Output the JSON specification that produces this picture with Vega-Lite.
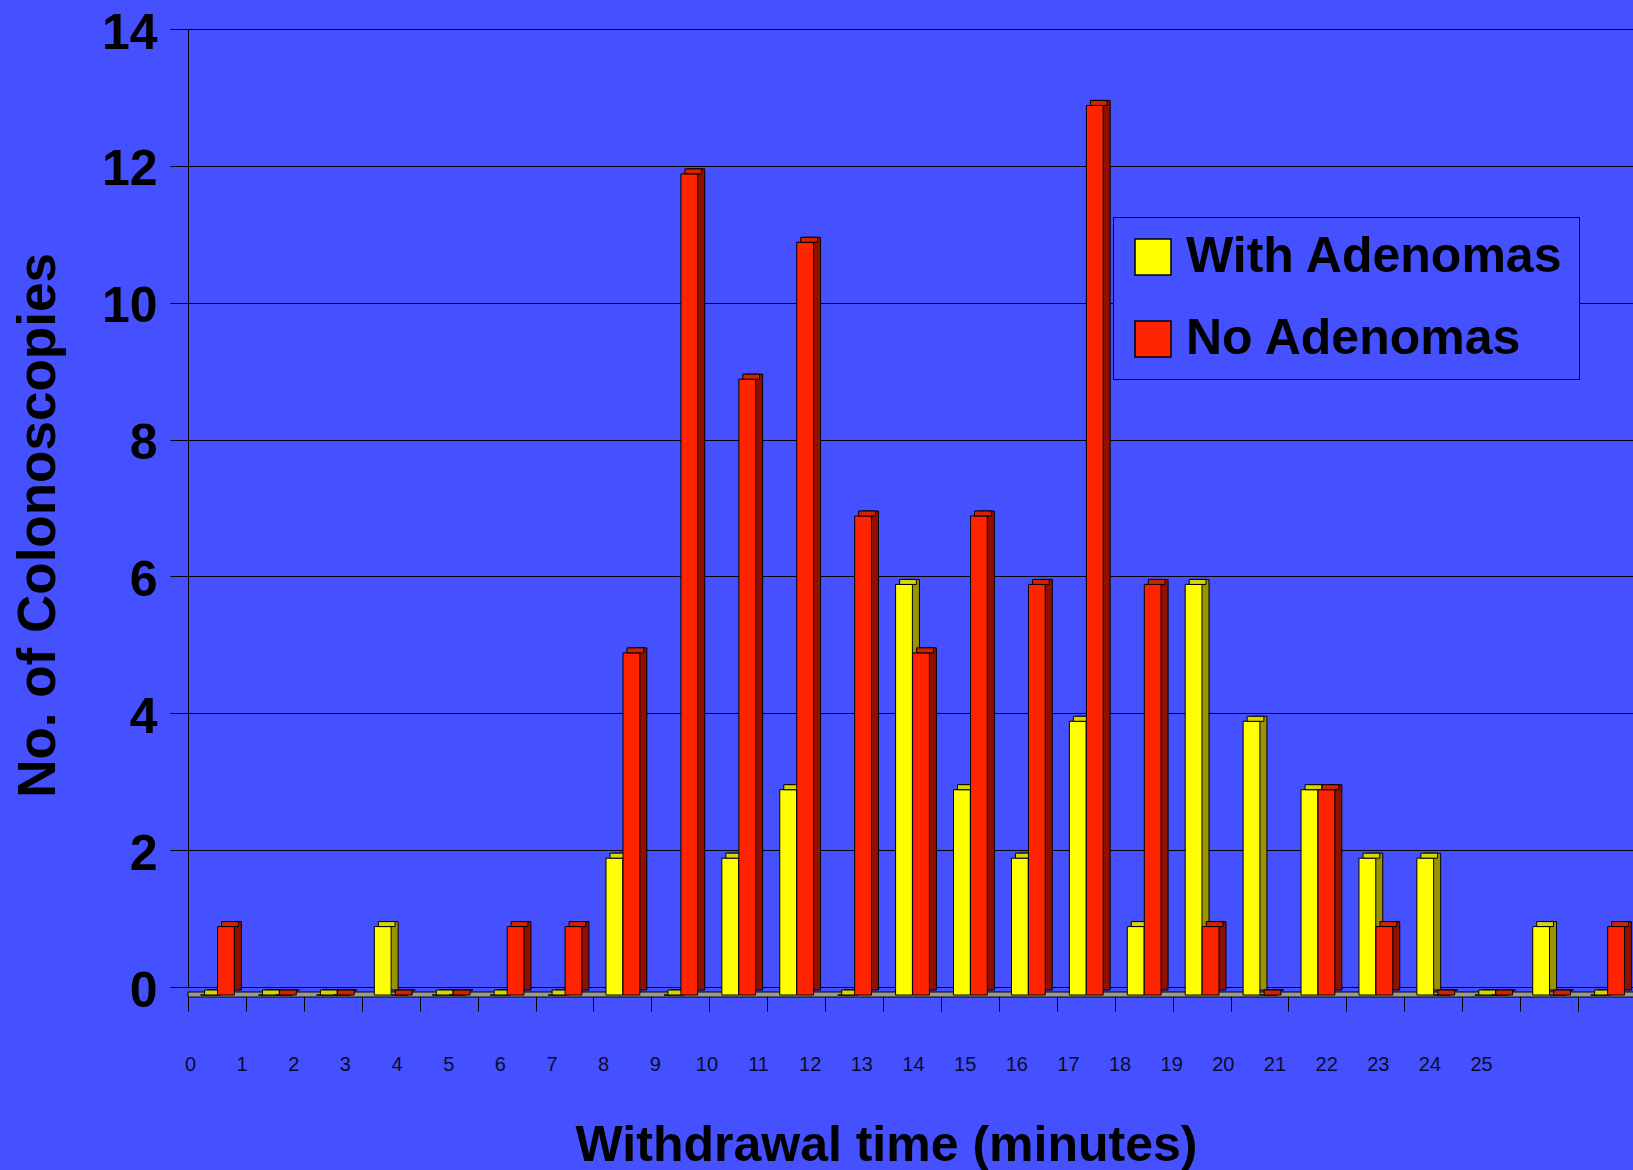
{
  "$schema": "https://vega.github.io/schema/vega-lite/v6.json",
  "width": 1448,
  "height": 958,
  "autosize": {"type": "none"},
  "padding": {"left": 188, "top": 29, "right": 0, "bottom": 183},
  "background": "#4551ff",
  "config": {
    "view": {"stroke": "#000000", "strokeWidth": 1, "fill": "#4551ff"},
    "font": "Liberation Sans",
    "axisY": {
      "labelFontSize": 50, "labelFontWeight": "bold", "labelColor": "#000000",
      "labelPadding": 13, "labelOffset": 4, "tickSize": 18, "tickColor": "#000000", "domainColor": "#000000",
      "grid": true, "gridColor": "#000000", "gridWidth": 1,
      "titleFontSize": 53, "titleFontWeight": "bold",
      "titleColor": "#000000", "titleX": -134, "titleY": 496, "titleBaseline": "alphabetic",
      "titleAngle": -90, "titleAlign": "center"
    },
    "axisBand": {
      "orient": "bottom", "offset": 8, "tickBand": "extent", "tickSize": 16, "tickColor": "#000000",
      "domainColor": "#000000", "labels": false, "grid": false,
      "titleFontSize": 50, "titleFontWeight": "bold",
      "titleColor": "#000000", "titleX": 698, "titleY": 165, "titleBaseline": "alphabetic", "titleAlign": "center"
    }
  },
  "datasets": {
    "bars": [
      {"group": 1, "series": "With Adenomas", "count": 0}, {"group": 1, "series": "No Adenomas", "count": 1},
      {"group": 2, "series": "With Adenomas", "count": 0}, {"group": 2, "series": "No Adenomas", "count": 0},
      {"group": 3, "series": "With Adenomas", "count": 0}, {"group": 3, "series": "No Adenomas", "count": 0},
      {"group": 4, "series": "With Adenomas", "count": 1}, {"group": 4, "series": "No Adenomas", "count": 0},
      {"group": 5, "series": "With Adenomas", "count": 0}, {"group": 5, "series": "No Adenomas", "count": 0},
      {"group": 6, "series": "With Adenomas", "count": 0}, {"group": 6, "series": "No Adenomas", "count": 1},
      {"group": 7, "series": "With Adenomas", "count": 0}, {"group": 7, "series": "No Adenomas", "count": 1},
      {"group": 8, "series": "With Adenomas", "count": 2}, {"group": 8, "series": "No Adenomas", "count": 5},
      {"group": 9, "series": "With Adenomas", "count": 0}, {"group": 9, "series": "No Adenomas", "count": 12},
      {"group": 10, "series": "With Adenomas", "count": 2}, {"group": 10, "series": "No Adenomas", "count": 9},
      {"group": 11, "series": "With Adenomas", "count": 3}, {"group": 11, "series": "No Adenomas", "count": 11},
      {"group": 12, "series": "With Adenomas", "count": 0}, {"group": 12, "series": "No Adenomas", "count": 7},
      {"group": 13, "series": "With Adenomas", "count": 6}, {"group": 13, "series": "No Adenomas", "count": 5},
      {"group": 14, "series": "With Adenomas", "count": 3}, {"group": 14, "series": "No Adenomas", "count": 7},
      {"group": 15, "series": "With Adenomas", "count": 2}, {"group": 15, "series": "No Adenomas", "count": 6},
      {"group": 16, "series": "With Adenomas", "count": 4}, {"group": 16, "series": "No Adenomas", "count": 13},
      {"group": 17, "series": "With Adenomas", "count": 1}, {"group": 17, "series": "No Adenomas", "count": 6},
      {"group": 18, "series": "With Adenomas", "count": 6}, {"group": 18, "series": "No Adenomas", "count": 1},
      {"group": 19, "series": "With Adenomas", "count": 4}, {"group": 19, "series": "No Adenomas", "count": 0},
      {"group": 20, "series": "With Adenomas", "count": 3}, {"group": 20, "series": "No Adenomas", "count": 3},
      {"group": 21, "series": "With Adenomas", "count": 2}, {"group": 21, "series": "No Adenomas", "count": 1},
      {"group": 22, "series": "With Adenomas", "count": 2}, {"group": 22, "series": "No Adenomas", "count": 0},
      {"group": 23, "series": "With Adenomas", "count": 0}, {"group": 23, "series": "No Adenomas", "count": 0},
      {"group": 24, "series": "With Adenomas", "count": 1}, {"group": 24, "series": "No Adenomas", "count": 0},
      {"group": 25, "series": "With Adenomas", "count": 0}, {"group": 25, "series": "No Adenomas", "count": 1}
    ],
    "minutes": [
      {"minute": 0}, {"minute": 1}, {"minute": 2}, {"minute": 3}, {"minute": 4}, {"minute": 5},
      {"minute": 6}, {"minute": 7}, {"minute": 8}, {"minute": 9}, {"minute": 10}, {"minute": 11},
      {"minute": 12}, {"minute": 13}, {"minute": 14}, {"minute": 15}, {"minute": 16}, {"minute": 17},
      {"minute": 18}, {"minute": 19}, {"minute": 20}, {"minute": 21}, {"minute": 22}, {"minute": 23},
      {"minute": 24}, {"minute": 25}
    ]
  },
  "layer": [
    {
      "data": {"name": "bars"},
      "layer": [
        {
          "data": {"values": [{"floor": 1}]},
          "mark": {"type": "rect", "fill": "#9a9a9a", "stroke": "#000000", "strokeWidth": 1, "yOffset": 5, "y2Offset": 10},
          "encoding": {
            "y": {
              "datum": 0, "type": "quantitative", "title": "No. of Colonoscopies",
              "scale": {"domain": [0, 14], "nice": false},
              "axis": {"values": [0, 2, 4, 6, 8, 10, 12, 14], "format": "d"}
            },
            "y2": {"datum": 0}
          }
        },
        {
          "transform": [{"filter": {"field": "series", "equal": "With Adenomas"}}],
          "mark": {"type": "bar", "fill": "#9a9400", "stroke": "#000000", "strokeWidth": 1, "width": {"band": 0.29}, "xOffset": -1, "yOffset": 3, "y2Offset": 5},
          "encoding": {
            "x": {
              "field": "group", "type": "ordinal", "title": "Withdrawal time (minutes)",
              "scale": {"domain": [1,2,3,4,5,6,7,8,9,10,11,12,13,14,15,16,17,18,19,20,21,22,23,24,25], "paddingInner": 0, "paddingOuter": 0}
            },
            "y": {"field": "count", "type": "quantitative", "title": "No. of Colonoscopies", "scale": {"domain": [0, 14], "nice": false}}
          }
        },
        {
          "transform": [{"filter": {"field": "series", "equal": "With Adenomas"}}],
          "mark": {"type": "bar", "stroke": "#000000", "strokeWidth": 1, "width": {"band": 0.29}, "xOffset": -8, "yOffset": 8, "y2Offset": 10},
          "encoding": {
            "x": {"field": "group", "type": "ordinal", "title": "Withdrawal time (minutes)"},
            "y": {"field": "count", "type": "quantitative", "title": "No. of Colonoscopies"},
            "color": {
              "field": "series", "type": "nominal",
              "scale": {"domain": ["With Adenomas", "No Adenomas"], "range": ["#ffff00", "#ff2400"]},
              "legend": {
                "orient": "none", "legendX": 925, "legendY": 188, "title": null,
                "labelFontSize": 50, "labelFontWeight": "bold", "labelColor": "#000000", "labelFont": "Liberation Sans",
                "labelLimit": 700, "labelOffset": 8,
                "symbolType": "square", "symbolSize": 1296, "symbolStrokeColor": "#000000", "symbolStrokeWidth": 1.5,
                "strokeColor": "#000000", "fillColor": "#4551ff", "padding": 15, "rowPadding": 32
              }
            }
          }
        },
        {
          "transform": [{"filter": {"field": "series", "equal": "With Adenomas"}}],
          "mark": {"type": "bar", "fill": "#d6d600", "stroke": "#000000", "strokeWidth": 1, "width": {"band": 0.29}, "xOffset": -4, "yOffset": 3, "y2Offset": 8},
          "encoding": {
            "x": {"field": "group", "type": "ordinal", "title": "Withdrawal time (minutes)"},
            "y": {"field": "count", "type": "quantitative", "title": "No. of Colonoscopies"},
            "y2": {"field": "count"}
          }
        },
        {
          "transform": [{"filter": {"field": "series", "equal": "No Adenomas"}}],
          "mark": {"type": "bar", "fill": "#901000", "stroke": "#000000", "strokeWidth": 1, "width": {"band": 0.29}, "xOffset": 16, "yOffset": 3, "y2Offset": 5},
          "encoding": {
            "x": {"field": "group", "type": "ordinal", "title": "Withdrawal time (minutes)"},
            "y": {"field": "count", "type": "quantitative", "title": "No. of Colonoscopies"}
          }
        },
        {
          "transform": [{"filter": {"field": "series", "equal": "No Adenomas"}}],
          "mark": {"type": "bar", "stroke": "#000000", "strokeWidth": 1, "width": {"band": 0.29}, "xOffset": 9, "yOffset": 8, "y2Offset": 10},
          "encoding": {
            "x": {"field": "group", "type": "ordinal", "title": "Withdrawal time (minutes)"},
            "y": {"field": "count", "type": "quantitative", "title": "No. of Colonoscopies"},
            "color": {"field": "series", "type": "nominal"}
          }
        },
        {
          "transform": [{"filter": {"field": "series", "equal": "No Adenomas"}}],
          "mark": {"type": "bar", "fill": "#d42200", "stroke": "#000000", "strokeWidth": 1, "width": {"band": 0.29}, "xOffset": 13, "yOffset": 3, "y2Offset": 8},
          "encoding": {
            "x": {"field": "group", "type": "ordinal", "title": "Withdrawal time (minutes)"},
            "y": {"field": "count", "type": "quantitative", "title": "No. of Colonoscopies"},
            "y2": {"field": "count"}
          }
        }
      ]
    },
    {
      "data": {"name": "minutes"},
      "mark": {"type": "point", "opacity": 0},
      "encoding": {
        "x": {
          "field": "minute", "type": "quantitative",
          "scale": {"domain": [-0.0387, 28.0], "nice": false, "zero": false},
          "axis": {
            "orient": "bottom", "values": [0,1,2,3,4,5,6,7,8,9,10,11,12,13,14,15,16,17,18,19,20,21,22,23,24,25],
            "format": "d", "domain": false, "ticks": false, "tickSize": 0, "grid": false,
            "labelPadding": 67, "labelFontSize": 20, "labelColor": "#0b0b2e", "labelFlush": false,
            "labelOverlap": false, "title": null, "offset": 0
          }
        }
      }
    }
  ],
  "resolve": {"scale": {"x": "independent"}, "axis": {"x": "independent"}}
}
